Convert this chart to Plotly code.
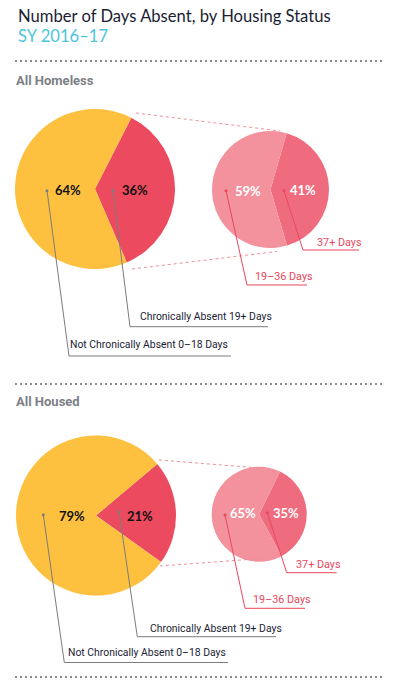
import plotly.graph_objects as go

# ---------------- data ----------------
groups = ["All Homeless", "All Housed"]
main_categories = ["Chronically Absent 19+ Days", "Not Chronically Absent 0–18 Days"]
homeless_main = [36, 64]
housed_main = [21, 79]
chronic_categories = ["37+ Days", "19–36 Days"]
homeless_chronic = [41, 59]
housed_chronic = [35, 65]
title_text = "Number of Days Absent, by Housing Status"
subtitle_text = "SY 2016–17"

# ---------------- style ----------------
W, H = 393, 687
YELLOW = "#FDC13F"
RED = "#EC4B5F"
DARK_PINK = "#EF6B7E"
LIGHT_PINK = "#F3919D"
GRAY_LINE = "#7c7c7c"
PINK_LINE = "#E9475C"
NAVY = "#1b1d33"
HEAD_GRAY = "#7d7f86"
CYAN = "#4CC4DB"
FONT = "Roboto"


def X(px):
    return px / W


def Y(py):
    return 1 - py / H


def domain(cx, cy, r):
    return dict(x=[X(cx - r), X(cx + r)], y=[Y(cy + r), Y(cy - r)])


fig = go.Figure()

pies = [
    # values, colors, center, radius, rotation
    (homeless_main, main_categories, [RED, YELLOW], (95, 189), 80, 27),
    (homeless_chronic, chronic_categories, [DARK_PINK, LIGHT_PINK], (270.5, 189.5), 58.5, 16),
    (housed_main, main_categories, [RED, YELLOW], (96, 515.5), 80, 50),
    (housed_chronic, chronic_categories, [DARK_PINK, LIGHT_PINK], (259.2, 514.2), 47.5, 26),
]
for vals, cats, cols, (cx, cy), r, rot in pies:
    fig.add_trace(go.Pie(
        values=vals, labels=cats, sort=False, direction="clockwise",
        rotation=rot, marker=dict(colors=cols, line=dict(width=0)),
        textinfo="none", hoverinfo="label+percent", showlegend=False,
        domain=domain(cx, cy, r),
    ))

shapes = []
annotations = []

# title
annotations.append(dict(x=X(16), y=Y(16), xref="paper", yref="paper", xanchor="left", yanchor="middle",
                        text=title_text, showarrow=False, font=dict(family="Lato", size=16.6, color=NAVY)))
annotations.append(dict(x=X(16), y=Y(36), xref="paper", yref="paper", xanchor="left", yanchor="middle",
                        text=subtitle_text, showarrow=False, font=dict(family="Lato", size=16.6, color=CYAN)))

# separators
for sy in [61, 384, 677]:
    shapes.append(dict(type="line", xref="paper", yref="paper", x0=X(15), x1=X(382), y0=Y(sy), y1=Y(sy),
                       line=dict(color="#8a8a8a", width=2, dash="2px,3px")))

# section headers
for g, gy in zip(groups, [80, 401]):
    annotations.append(dict(x=X(14), y=Y(gy), xref="paper", yref="paper", xanchor="left", yanchor="middle",
                            text="<b>" + g + "</b>", showarrow=False,
                            font=dict(family=FONT, size=13, color=HEAD_GRAY)))

# pink dotted connectors
for (x0, y0, x1, y1) in [(136, 113, 280, 131), (132, 269, 277, 251.5),
                         (159, 460, 263, 468.3), (160, 566, 264, 558.3)]:
    shapes.append(dict(type="line", xref="paper", yref="paper", x0=X(x0), y0=Y(y0), x1=X(x1), y1=Y(y1),
                       line=dict(color="#EE8E9A", width=1, dash="dot")))

# percentage labels
pct_pos = [
    (homeless_main, [(135, 190), (68, 190)], "#111111"),
    (homeless_chronic, [(302.5, 190), (247.5, 190.5)], "white"),
    (housed_main, [(140, 516), (71.7, 516)], "#111111"),
    (housed_chronic, [(286, 512.7), (242.8, 512.7)], "white"),
]
for vals, poss, col in pct_pos:
    for v, (px, py) in zip(vals, poss):
        annotations.append(dict(x=X(px), y=Y(py), xref="paper", yref="paper", xanchor="center",
                                yanchor="middle", text="<b>%d%%</b>" % v, showarrow=False,
                                font=dict(family="Lato", size=13, color=col)))

# leader lines: (label, dot, elbow, end, text_x, text_y, anchor, color, textcolor)
leaders = [
    (main_categories[0], (113, 190.7), (130, 326.7), 268, 137.5, 316, "left", GRAY_LINE, NAVY),
    (main_categories[1], (47, 190.7), (69, 356), 231, 230, 345, "right", GRAY_LINE, NAVY),
    (chronic_categories[1], (226, 190.7), (247, 285), 307, 252.5, 276.5, "left", PINK_LINE, PINK_LINE),
    (chronic_categories[0], (284, 190.7), (303, 250), 359, 315, 242, "left", PINK_LINE, PINK_LINE),
    (main_categories[0], (119, 511.7), (137.3, 636.7), 276, 147.5, 628, "left", GRAY_LINE, NAVY),
    (main_categories[1], (43.3, 514.7), (64.3, 662.5), 228, 227.5, 652.5, "right", GRAY_LINE, NAVY),
    (chronic_categories[1], (225, 515), (245, 608.3), 305, 251, 599, "left", PINK_LINE, PINK_LINE),
    (chronic_categories[0], (267.3, 512.7), (286.7, 572.7), 336.7, 294, 564, "left", PINK_LINE, PINK_LINE),
]
for lab, (dx, dy), (ex, ey), endx, tx, ty, anc, lc, tc in leaders:
    shapes.append(dict(type="path", xref="paper", yref="paper",
                       path="M %f,%f L %f,%f L %f,%f" % (X(dx), Y(dy), X(ex), Y(ey), X(endx), Y(ey)),
                       line=dict(color=lc, width=1)))
    shapes.append(dict(type="circle", xref="paper", yref="paper",
                       x0=X(dx - 1.5), x1=X(dx + 1.5), y0=Y(dy + 1.5), y1=Y(dy - 1.5),
                       fillcolor=lc, line=dict(width=0)))
    fsize = 10.4 if tc == NAVY else 10.8
    annotations.append(dict(x=X(tx), y=Y(ty), xref="paper", yref="paper", xanchor=anc, yanchor="middle",
                            text=lab, showarrow=False, font=dict(family=FONT, size=fsize, color=tc)))

fig.update_layout(
    width=W, height=H, margin=dict(l=0, r=0, t=0, b=0),
    paper_bgcolor="white", plot_bgcolor="white",
    shapes=shapes, annotations=annotations, showlegend=False,
)

fig.write_html("out.html", config={"displayModeBar": False},
               post_script="document.body.style.margin='0px';document.body.style.overflow='hidden';")
